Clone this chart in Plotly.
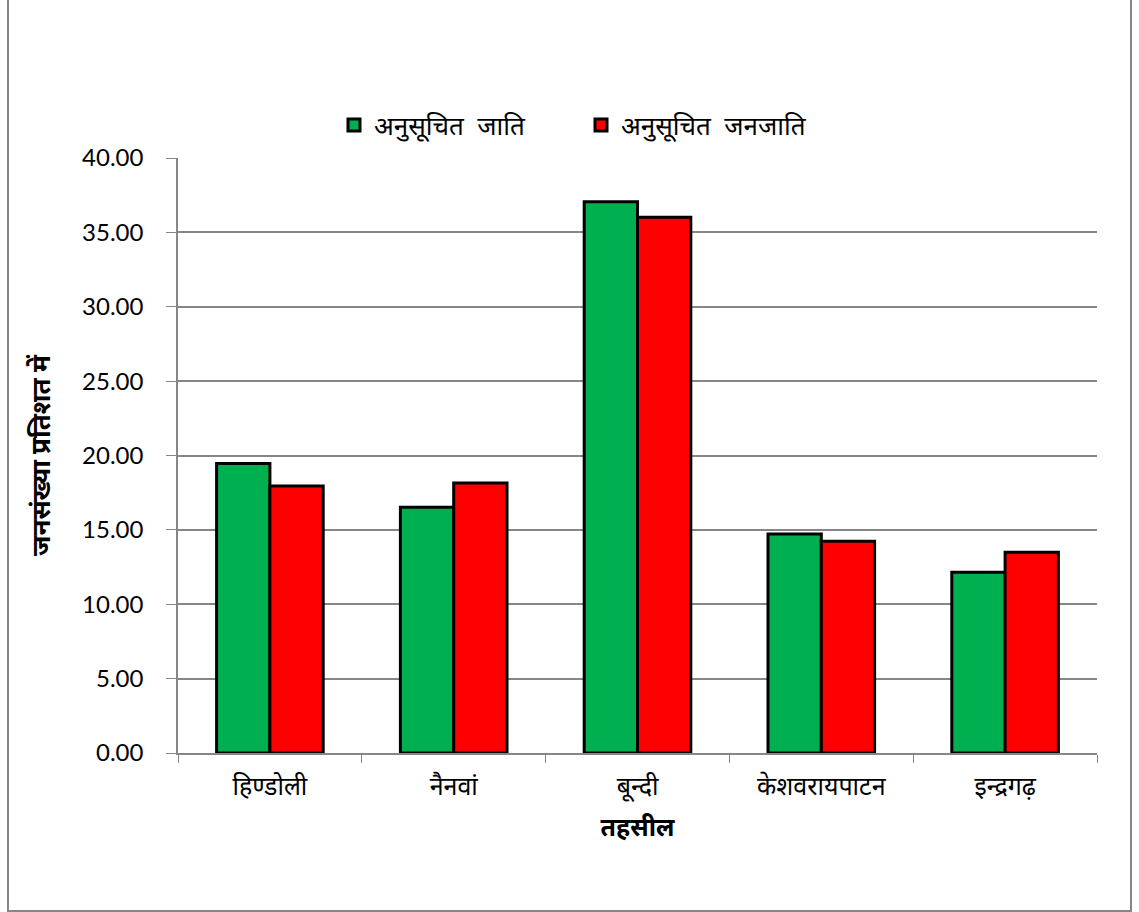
import plotly.graph_objects as go

categories = ["हिण्डोली", "नैनवां", "बून्दी", "केशवरायपाटन", "इन्द्रगढ़"]
sc_values = [19.46, 16.52, 37.06, 14.72, 12.15]
st_values = [17.95, 18.15, 36.01, 14.23, 13.49]
series_names = ["अनुसूचित  जाति", "अनुसूचित  जनजाति"]
y_ticks = [0, 5, 10, 15, 20, 25, 30, 35, 40]
y_ticklabels = ["%.2f" % v for v in y_ticks]

FONT = "Lato, Noto Sans, sans-serif"

fig = go.Figure()
fig.add_trace(go.Bar(x=categories, y=sc_values, name=series_names[0],
                     marker=dict(color="#00B050", line=dict(color="black", width=3))))
fig.add_trace(go.Bar(x=categories, y=st_values, name=series_names[1],
                     marker=dict(color="#FF0000", line=dict(color="black", width=3))))

L, R, T, B = 178, 42, 158, 159
W, H = 1139, 912
pw, ph = W - L - R, H - T - B

def px(x):
    return (x - L) / pw

def py(y):
    return (H - B - y) / ph

fig.update_layout(
    width=W, height=H,
    margin=dict(l=L, r=R, t=T, b=B, autoexpand=False),
    plot_bgcolor="white", paper_bgcolor="white",
    barmode="group", bargap=0.42, bargroupgap=0,
    font=dict(family=FONT, color="black"),
    legend=dict(orientation="h", x=px(334), y=py(125), xanchor="left", yanchor="middle",
                font=dict(size=26, family=FONT), itemwidth=30, traceorder="normal",
                entrywidth=202, entrywidthmode="pixels"),
    xaxis=dict(showgrid=False, showline=True, linecolor="#868686", linewidth=1.5,
               ticks="outside", ticklen=8, tickcolor="#868686", tickson="boundaries",
               tickfont=dict(size=25, family=FONT), ticklabelstandoff=10,
               title=dict(text="<b>तहसील</b>", font=dict(size=25, family=FONT), standoff=18)),
    yaxis=dict(range=[0, 40], tickvals=y_ticks, ticktext=y_ticklabels,
               showgrid=True, gridcolor="#868686", gridwidth=1.5,
               showline=True, linecolor="#868686", linewidth=1.5,
               ticks="outside", ticklen=10, tickcolor="#868686",
               tickfont=dict(size=24, family=FONT), ticklabelstandoff=18,
               zeroline=False,
               title=dict(text="<b>जनसंख्या प्रतिशत में</b>", font=dict(size=26, family=FONT), standoff=24)),
    shapes=[dict(type="rect", xref="paper", yref="paper",
                 x0=px(8), x1=px(1131), y0=py(911), y1=py(-5),
                 line=dict(color="#868686", width=2), fillcolor="rgba(0,0,0,0)", layer="below")],
)

fig.write_html("out.html")
